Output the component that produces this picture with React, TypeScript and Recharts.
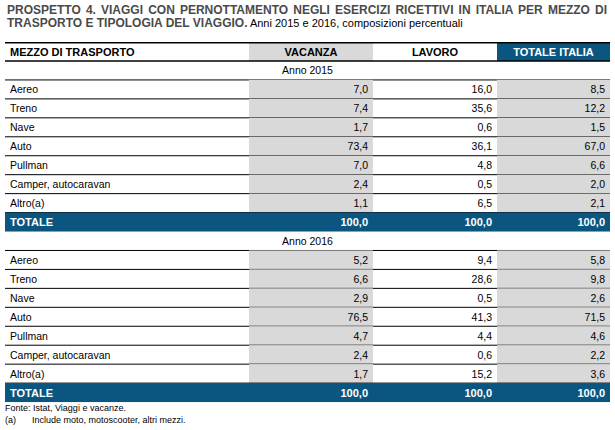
import React from "react";
import { Bar, BarChart, XAxis, YAxis } from "recharts";

// Prospetto 4 - viaggi per mezzo di trasporto (composizioni percentuali)
const mezzi = ["Aereo", "Treno", "Nave", "Auto", "Pullman", "Camper, autocaravan", "Altro(a)"];
const colonne = ["VACANZA", "LAVORO", "TOTALE ITALIA"];
const anni = ["Anno 2015", "Anno 2016"];

const vacanza2015 = [7.0, 7.4, 1.7, 73.4, 7.0, 2.4, 1.1];
const lavoro2015 = [16.0, 35.6, 0.6, 36.1, 4.8, 0.5, 6.5];
const totale2015 = [8.5, 12.2, 1.5, 67.0, 6.6, 2.0, 2.1];

const vacanza2016 = [5.2, 6.6, 2.9, 76.5, 4.7, 2.4, 1.7];
const lavoro2016 = [9.4, 28.6, 0.5, 41.3, 4.4, 0.6, 15.2];
const totale2016 = [5.8, 9.8, 2.6, 71.5, 4.6, 2.2, 3.6];

const totali = [100.0, 100.0, 100.0];

const BLUE = "#0b5681";
const GREY = "#d9d9d9";
const FONT = '"Liberation Sans Narrow", "Arial Narrow", "Liberation Sans", Arial, sans-serif';

type Row = {
  key: string;
  kind: "header" | "year" | "data" | "total";
  label: string;
  values: number[];
  span: number;
};

function buildRows(): Row[] {
  const rows: Row[] = [{ key: "h", kind: "header", label: "MEZZO DI TRASPORTO", values: [], span: 1 }];
  const blocks = [
    [vacanza2015, lavoro2015, totale2015],
    [vacanza2016, lavoro2016, totale2016],
  ];
  blocks.forEach((b, bi) => {
    rows.push({ key: "y" + bi, kind: "year", label: anni[bi], values: [], span: 1 });
    mezzi.forEach((m, i) => {
      rows.push({ key: bi + "-" + i, kind: "data", label: m, values: [b[0][i], b[1][i], b[2][i]], span: 1 });
    });
    rows.push({ key: "t" + bi, kind: "total", label: "TOTALE", values: totali, span: 1 });
  });
  return rows;
}

const rows = buildRows();

const fmt = (v: number) => v.toFixed(1).replace(".", ",");

function RowShape(props: any) {
  const { x, y, width, height, payload } = props;
  const row: Row = payload;
  // column edges relative to the table's left edge
  const edges = [x, x + 244, x + 368, x + 492, x + width];
  const mid = y + height / 2 + 4;
  const cells: React.ReactNode[] = [];

  if (row.kind === "header") {
    cells.push(<rect key="g" x={edges[1]} y={y} width={edges[2] - edges[1]} height={height} fill={GREY} />);
    cells.push(<rect key="b" x={edges[3]} y={y} width={edges[4] - edges[3]} height={height} fill={BLUE} />);
    cells.push(
      <text key="l" x={x + 5} y={mid} fontSize={11} fontWeight="bold" fill="#000">
        {row.label}
      </text>
    );
    colonne.forEach((c, i) => {
      cells.push(
        <text
          key={"c" + i}
          x={(edges[i + 1] + edges[i + 2]) / 2}
          y={mid}
          fontSize={11}
          fontWeight="bold"
          textAnchor="middle"
          fill={i === 2 ? "#fff" : "#000"}
        >
          {c}
        </text>
      );
    });
    cells.push(<line key="t" x1={x} x2={x + width} y1={y + 0.75} y2={y + 0.75} stroke="#000" strokeWidth={1.5} />);
    cells.push(<line key="u" x1={x} x2={x + width} y1={y + height} y2={y + height} stroke="#000" strokeWidth={1.5} />);
  } else if (row.kind === "year") {
    cells.push(
      <text key="l" x={x + width / 2} y={mid} fontSize={10.5} textAnchor="middle" fill="#000">
        {row.label}
      </text>
    );
    cells.push(<line key="u" x1={x} x2={x + width} y1={y + height} y2={y + height} stroke="#000" strokeWidth={1} />);
  } else if (row.kind === "data") {
    cells.push(<rect key="g" x={edges[1]} y={y} width={edges[2] - edges[1]} height={height} fill={GREY} />);
    cells.push(<rect key="g2" x={edges[3]} y={y} width={edges[4] - edges[3]} height={height} fill={GREY} />);
    cells.push(
      <text key="l" x={x + 5} y={mid} fontSize={10.5} fill="#000">
        {row.label}
      </text>
    );
    row.values.forEach((v, i) => {
      cells.push(
        <text key={"v" + i} x={edges[i + 2] - 5} y={mid} fontSize={10.5} textAnchor="end" fill="#000">
          {fmt(v)}
        </text>
      );
    });
    cells.push(<line key="u" x1={x} x2={x + width} y1={y + height} y2={y + height} stroke="#000" strokeWidth={1} />);
  } else {
    cells.push(<rect key="b" x={x} y={y} width={width} height={height} fill={BLUE} />);
    cells.push(
      <text key="l" x={x + 5} y={mid} fontSize={11} fontWeight="bold" fill="#fff">
        {row.label}
      </text>
    );
    row.values.forEach((v, i) => {
      cells.push(
        <text key={"v" + i} x={edges[i + 2] - 5} y={mid} fontSize={11} fontWeight="bold" textAnchor="end" fill="#fff">
          {fmt(v)}
        </text>
      );
    });
  }
  return <g>{cells}</g>;
}

export default function App() {
  return (
    <div
      style={{
        position: "absolute",
        left: 0,
        top: 0,
        width: 615,
        height: 430,
        background: "#fff",
        overflow: "hidden",
        fontFamily: FONT,
      }}
    >
      <div
        style={{
          position: "absolute",
          left: 7,
          top: 4,
          width: 600,
          fontSize: 12,
          fontWeight: "bold",
          color: "#4a4a4a",
          textAlign: "justify",
          textAlignLast: "justify",
          lineHeight: "13px",
          whiteSpace: "nowrap",
        }}
      >
        PROSPETTO 4. VIAGGI CON PERNOTTAMENTO NEGLI ESERCIZI RICETTIVI IN ITALIA PER MEZZO DI
      </div>
      <div
        style={{
          position: "absolute",
          left: 7,
          top: 17,
          fontSize: 12,
          lineHeight: "13px",
          whiteSpace: "nowrap",
        }}
      >
        <span style={{ fontWeight: "bold", color: "#4a4a4a" }}>TRASPORTO E TIPOLOGIA DEL VIAGGIO.</span>
        <span style={{ color: "#000", fontSize: 11 }}> Anni 2015 e 2016, composizioni percentuali</span>
      </div>
      <div style={{ position: "absolute", left: 0, top: 0 }}>
        <BarChart
          width={615}
          height={430}
          layout="vertical"
          data={rows}
          margin={{ top: 42, right: 5, bottom: 28, left: 5 }}
          barCategoryGap={0}
        >
          <XAxis type="number" domain={[0, 1]} hide />
          <YAxis type="category" dataKey="key" hide />
          <Bar dataKey="span" isAnimationActive={false} shape={RowShape} />
        </BarChart>
      </div>
      <div style={{ position: "absolute", left: 5, top: 402, fontSize: 9, color: "#000", lineHeight: "12px" }}>
        <div>Fonte: Istat, Viaggi e vacanze.</div>
        <div>
          <span style={{ display: "inline-block", width: 27 }}>(a)</span>Include moto, motoscooter, altri mezzi.
        </div>
      </div>
    </div>
  );
}
